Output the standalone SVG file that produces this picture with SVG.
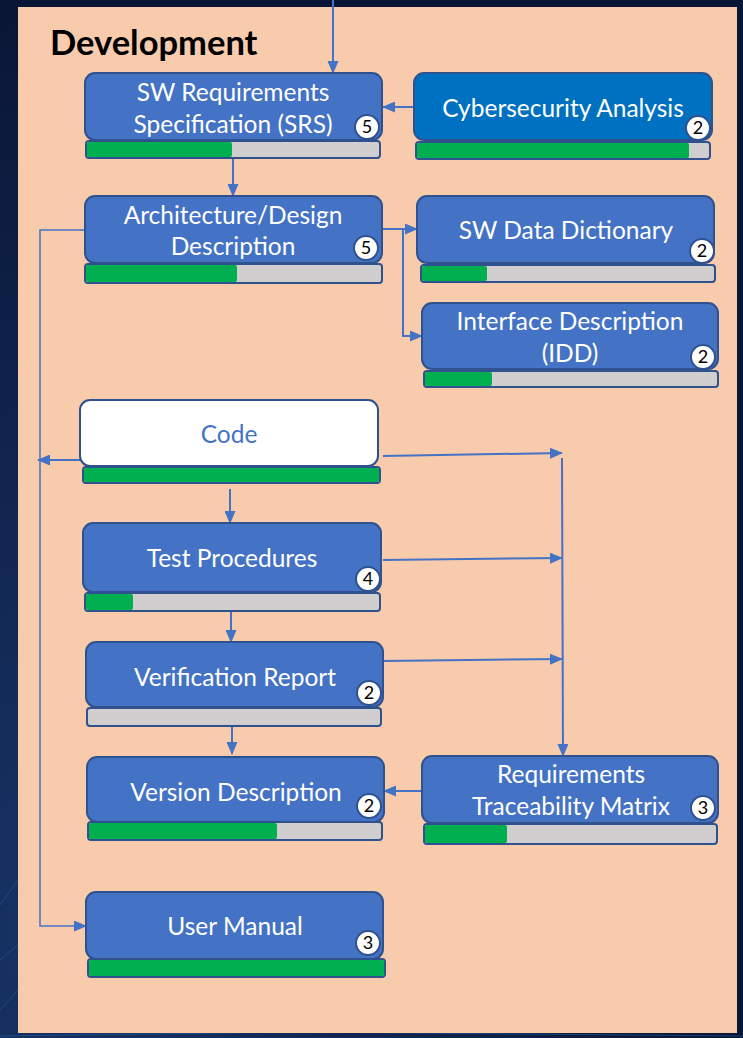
<svg xmlns="http://www.w3.org/2000/svg" width="743" height="1038" viewBox="0 0 743 1038">
  <defs>
    <radialGradient id="bgGlow" cx="0.1" cy="0.9" r="0.9">
      <stop offset="0" stop-color="#173466"/>
      <stop offset="1" stop-color="#0a1636"/>
    </radialGradient>
    <marker id="arrow" viewBox="0 0 13 11" refX="12" refY="5.5" markerWidth="13" markerHeight="11" markerUnits="userSpaceOnUse" orient="auto">
      <path d="M0,0 L13,5.5 L0,11 Z" fill="#4472C4"/>
    </marker>
    <style>
      .box { fill: #4472C4; stroke: #2F528F; stroke-width: 2; }
      .box-dark { fill: #0070C0; stroke: #2F528F; stroke-width: 2; }
      .box-white { fill: #FFFFFF; stroke: #2F528F; stroke-width: 2; }
      .bar { fill: #D0CECE; stroke: #2F528F; stroke-width: 2; }
      .done { fill: #00B050; }
      .label { font-family: Lato, "Open Sans", sans-serif; font-size: 24.5px; fill: #FFFFFF; text-anchor: middle; }
      .label-blue { fill: #4472C4; }
      .badge { fill: #FFFFFF; stroke: #2F528F; stroke-width: 2; }
      .badge-num { font-family: Lato, "Open Sans", sans-serif; font-size: 18px; fill: #000000; text-anchor: middle; }
      .title { font-family: Lato, "Open Sans", sans-serif; font-size: 34.5px; font-weight: bold; fill: #000000; }
      .link { fill: none; stroke: #4472C4; stroke-width: 2; }
      .link-thin { fill: none; stroke: #4472C4; stroke-width: 1.5; }
    </style>
  </defs>

  <!-- backdrop and panel -->
  <rect x="0" y="0" width="743" height="1038" fill="url(#bgGlow)"/>
  <g stroke="#2a5a9c" stroke-width="1" fill="none" opacity="0.6">
    <path d="M0,905 L18,880"/>
    <path d="M0,960 L18,945"/>
    <path d="M0,1010 L18,990"/>
    <path d="M0,1036 L300,1032 L743,1036"/>
  </g>
  <rect x="18" y="7" width="719" height="1026" fill="#F8CBAD"/>

  <text class="title" x="50" y="55">Development</text>

  <!-- connectors -->
  <g id="connectors">
    <path class="link" d="M333,0 L333,73" marker-end="url(#arrow)"/>
    <path class="link" d="M414,107 L383,107" marker-end="url(#arrow)"/>
    <path class="link" d="M233,158 L233,196" marker-end="url(#arrow)"/>
    <path class="link" d="M382,229 L417,229" marker-end="url(#arrow)"/>
    <path class="link" d="M403,229 L403,336 L422,336" marker-end="url(#arrow)"/>
    <path class="link-thin" d="M85,230 L40,230 L40,926 L86,926" marker-end="url(#arrow)"/>
    <path class="link" d="M80,460 L38,460" marker-end="url(#arrow)"/>
    <path class="link" d="M383,456 L562,453" marker-end="url(#arrow)"/>
    <path class="link" d="M562,458 L563,756" marker-end="url(#arrow)"/>
    <path class="link" d="M383,560 L562,558" marker-end="url(#arrow)"/>
    <path class="link" d="M383,661 L562,659" marker-end="url(#arrow)"/>
    <path class="link" d="M230,489 L230,523" marker-end="url(#arrow)"/>
    <path class="link" d="M231,611 L231,642" marker-end="url(#arrow)"/>
    <path class="link" d="M232,726 L232,754" marker-end="url(#arrow)"/>
    <path class="link" d="M422,791 L384,791" marker-end="url(#arrow)"/>
  </g>

  <!-- SW Requirements Specification -->
  <g id="srs">
    <rect class="box" x="85" y="73" width="297" height="67" rx="10"/>
    <rect class="bar" x="86" y="141" width="294" height="17" rx="3"/>
    <rect class="done" x="87" y="142" width="145" height="15" rx="2"/>
    <text class="label" x="233" y="101">SW Requirements</text>
    <text class="label" x="233" y="133">Specification (SRS)</text>
    <circle class="badge" cx="367" cy="127" r="12"/>
    <text class="badge-num" x="367" y="133">5</text>
  </g>

  <!-- Cybersecurity Analysis -->
  <g id="cybersecurity">
    <rect class="box-dark" x="414" y="73" width="298" height="67" rx="10"/>
    <rect class="bar" x="416" y="142" width="294" height="17" rx="3"/>
    <rect class="done" x="417" y="143" width="272" height="15" rx="2"/>
    <text class="label" x="563" y="117">Cybersecurity Analysis</text>
    <circle class="badge" cx="698" cy="128" r="12"/>
    <text class="badge-num" x="698" y="134">2</text>
  </g>

  <!-- Architecture/Design Description -->
  <g id="architecture">
    <rect class="box" x="85" y="196" width="297" height="67" rx="10"/>
    <rect class="bar" x="85" y="264" width="297" height="19" rx="3"/>
    <rect class="done" x="86" y="265" width="151" height="17" rx="2"/>
    <text class="label" x="233" y="224">Architecture/Design</text>
    <text class="label" x="233" y="255">Description</text>
    <circle class="badge" cx="366" cy="248" r="12"/>
    <text class="badge-num" x="366" y="254">5</text>
  </g>

  <!-- SW Data Dictionary -->
  <g id="data-dictionary">
    <rect class="box" x="417" y="196" width="297" height="67" rx="10"/>
    <rect class="bar" x="421" y="265" width="294" height="17" rx="3"/>
    <rect class="done" x="422" y="266" width="65" height="15" rx="2"/>
    <text class="label" x="566" y="239">SW Data Dictionary</text>
    <circle class="badge" cx="702" cy="251" r="12"/>
    <text class="badge-num" x="702" y="257">2</text>
  </g>

  <!-- Interface Description -->
  <g id="idd">
    <rect class="box" x="422" y="303" width="296" height="66" rx="10"/>
    <rect class="bar" x="424" y="371" width="294" height="16" rx="3"/>
    <rect class="done" x="425" y="372" width="67" height="14" rx="2"/>
    <text class="label" x="570" y="330">Interface Description</text>
    <text class="label" x="570" y="362">(IDD)</text>
    <circle class="badge" cx="703" cy="357" r="12"/>
    <text class="badge-num" x="703" y="363">2</text>
  </g>

  <!-- Code -->
  <g id="code">
    <rect class="box-white" x="80" y="400" width="298" height="66" rx="10"/>
    <rect class="bar" x="83" y="467" width="297" height="16" rx="3"/>
    <rect class="done" x="84" y="468" width="295" height="14" rx="2"/>
    <text class="label label-blue" x="229" y="443">Code</text>
  </g>

  <!-- Test Procedures -->
  <g id="test-procedures">
    <rect class="box" x="83" y="523" width="298" height="69" rx="10"/>
    <rect class="bar" x="85" y="593" width="295" height="18" rx="3"/>
    <rect class="done" x="86" y="594" width="47" height="16" rx="2"/>
    <text class="label" x="232" y="567">Test Procedures</text>
    <circle class="badge" cx="368" cy="579" r="12"/>
    <text class="badge-num" x="368" y="585">4</text>
  </g>

  <!-- Verification Report -->
  <g id="verification-report">
    <rect class="box" x="86" y="642" width="297" height="65" rx="10"/>
    <rect class="bar" x="87" y="708" width="294" height="18" rx="3"/>
    <text class="label" x="235" y="686">Verification Report</text>
    <circle class="badge" cx="369" cy="693" r="12"/>
    <text class="badge-num" x="369" y="699">2</text>
  </g>

  <!-- Version Description -->
  <g id="version-description">
    <rect class="box" x="87" y="757" width="297" height="65" rx="10"/>
    <rect class="bar" x="88" y="822" width="294" height="18" rx="3"/>
    <rect class="done" x="89" y="823" width="188" height="16" rx="2"/>
    <text class="label" x="236" y="801">Version Description</text>
    <circle class="badge" cx="369" cy="806" r="12"/>
    <text class="badge-num" x="369" y="812">2</text>
  </g>

  <!-- Requirements Traceability Matrix -->
  <g id="traceability-matrix">
    <rect class="box" x="422" y="756" width="296" height="67" rx="10"/>
    <rect class="bar" x="424" y="824" width="293" height="20" rx="3"/>
    <rect class="done" x="425" y="825" width="82" height="18" rx="2"/>
    <text class="label" x="571" y="783">Requirements</text>
    <text class="label" x="571" y="815">Traceability Matrix</text>
    <circle class="badge" cx="703" cy="808" r="12"/>
    <text class="badge-num" x="703" y="814">3</text>
  </g>

  <!-- User Manual -->
  <g id="user-manual">
    <rect class="box" x="86" y="892" width="297" height="67" rx="10"/>
    <rect class="bar" x="88" y="959" width="297" height="18" rx="3"/>
    <rect class="done" x="89" y="960" width="295" height="16" rx="2"/>
    <text class="label" x="235" y="935">User Manual</text>
    <circle class="badge" cx="368" cy="943" r="12"/>
    <text class="badge-num" x="368" y="949">3</text>
  </g>
</svg>
